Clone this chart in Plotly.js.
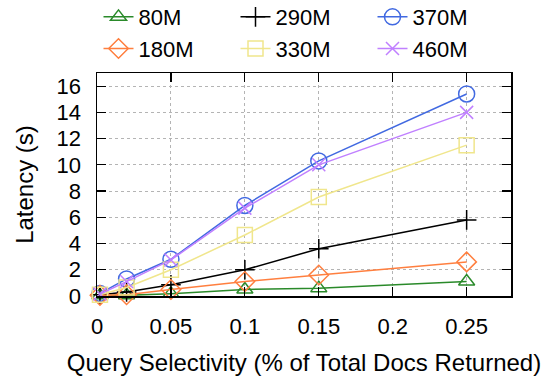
<!DOCTYPE html>
<html>
<head>
<meta charset="utf-8">
<script src="https://cdn.plot.ly/plotly-3.0.1.min.js"></script>
<style>
html,body{margin:0;padding:0;background:#fff;}
#chart{width:544px;height:379px;}
</style>
</head>
<body>
<div id="chart"></div>
<script>
// Query selectivity values (x)
const selectivity = [0.002, 0.02, 0.05, 0.1, 0.15, 0.25];
// Series names (legend order: row 1 then row 2)
const names = ["80M", "290M", "370M", "180M", "330M", "460M"];
// Latency values (s)
const lat80M  = [0.05, 0.05, 0.18, 0.5, 0.6, 1.1];
const lat180M = [0.05, 0.1, 0.5, 1.1, 1.6, 2.6];
const lat290M = [0.1, 0.3, 0.85, 2.0, 3.6, 5.8];
const lat330M = [0.1, 0.65, 2.0, 4.65, 7.55, 11.5];
const lat370M = [0.2, 1.3, 2.8, 6.9, 10.3, 15.4];
const lat460M = [0.15, 1.1, 2.75, 6.7, 10.0, 14.0];
// Axis ticks
const xTicks = [0, 0.05, 0.1, 0.15, 0.2, 0.25];
const xTickText = ["0", "0.05", "0.1", "0.15", "0.2", "0.25"];
const yTicks = [0, 2, 4, 6, 8, 10, 12, 14, 16];

const seriesValues = [lat80M, lat290M, lat370M, lat180M, lat330M, lat460M];
const colors = ["#2a8a2a", "#000000", "#4169e1", "#ff7f3f", "#f0e68c", "#c080ff"];
const symbols = ["triangle-up-open", "cross-thin-open", "circle-open", "diamond-open", "square-open", "x-thin-open"];
const sizes = [14, 14, 16, 15, 15, 13];

const traces = names.map((n, i) => ({
  x: selectivity,
  y: seriesValues[i],
  name: n,
  type: "scatter",
  mode: "lines+markers",
  cliponaxis: false,
  line: {color: colors[i], width: 1.5},
  marker: {symbol: symbols[i], size: sizes[i], color: colors[i], line: {color: colors[i], width: 1.5}}
}));

const fontFam = "Liberation Sans, Arial, sans-serif";
const layout = {
  width: 544, height: 379,
  margin: {l: 97, r: 33, t: 73, b: 83, autoexpand: false},
  paper_bgcolor: "#fff", plot_bgcolor: "#fff",
  font: {family: fontFam, size: 22, color: "#000"},
  showlegend: true,
  legend: {
    orientation: "h",
    x: 0.5, xanchor: "center",
    y: 1.345, yanchor: "top",
    entrywidth: 92,
    font: {family: fontFam, size: 22, color: "#000"},
    bgcolor: "rgba(0,0,0,0)",
    tracegroupgap: 0
  },
  xaxis: {
    range: [0, 0.28],
    tickvals: xTicks, ticktext: xTickText,
    ticks: "inside", ticklen: 9, tickcolor: "#000", tickwidth: 1.2,
    showline: true, linecolor: "#000", linewidth: 1.5, mirror: "ticks",
    showgrid: true, gridcolor: "#b4b4b4", griddash: "dot", gridwidth: 1,
    zeroline: false,
    ticklabelstandoff: 10,
    tickfont: {size: 22},
    title: {text: "Query Selectivity (% of Total Docs Returned)", font: {size: 24}, standoff: 16}
  },
  yaxis: {
    range: [0, 17],
    tickvals: yTicks,
    ticks: "inside", ticklen: 9, tickcolor: "#000", tickwidth: 1.2,
    showline: true, linecolor: "#000", linewidth: 1.5, mirror: "ticks",
    showgrid: true, gridcolor: "#b4b4b4", griddash: "dot", gridwidth: 1,
    zeroline: false,
    ticklabelstandoff: 10,
    tickfont: {size: 22},
    title: {text: "Latency (s)", font: {size: 24}, standoff: 16}
  }
};

Plotly.newPlot("chart", traces, layout, {displayModeBar: false, staticPlot: true});
</script>
</body>
</html>
